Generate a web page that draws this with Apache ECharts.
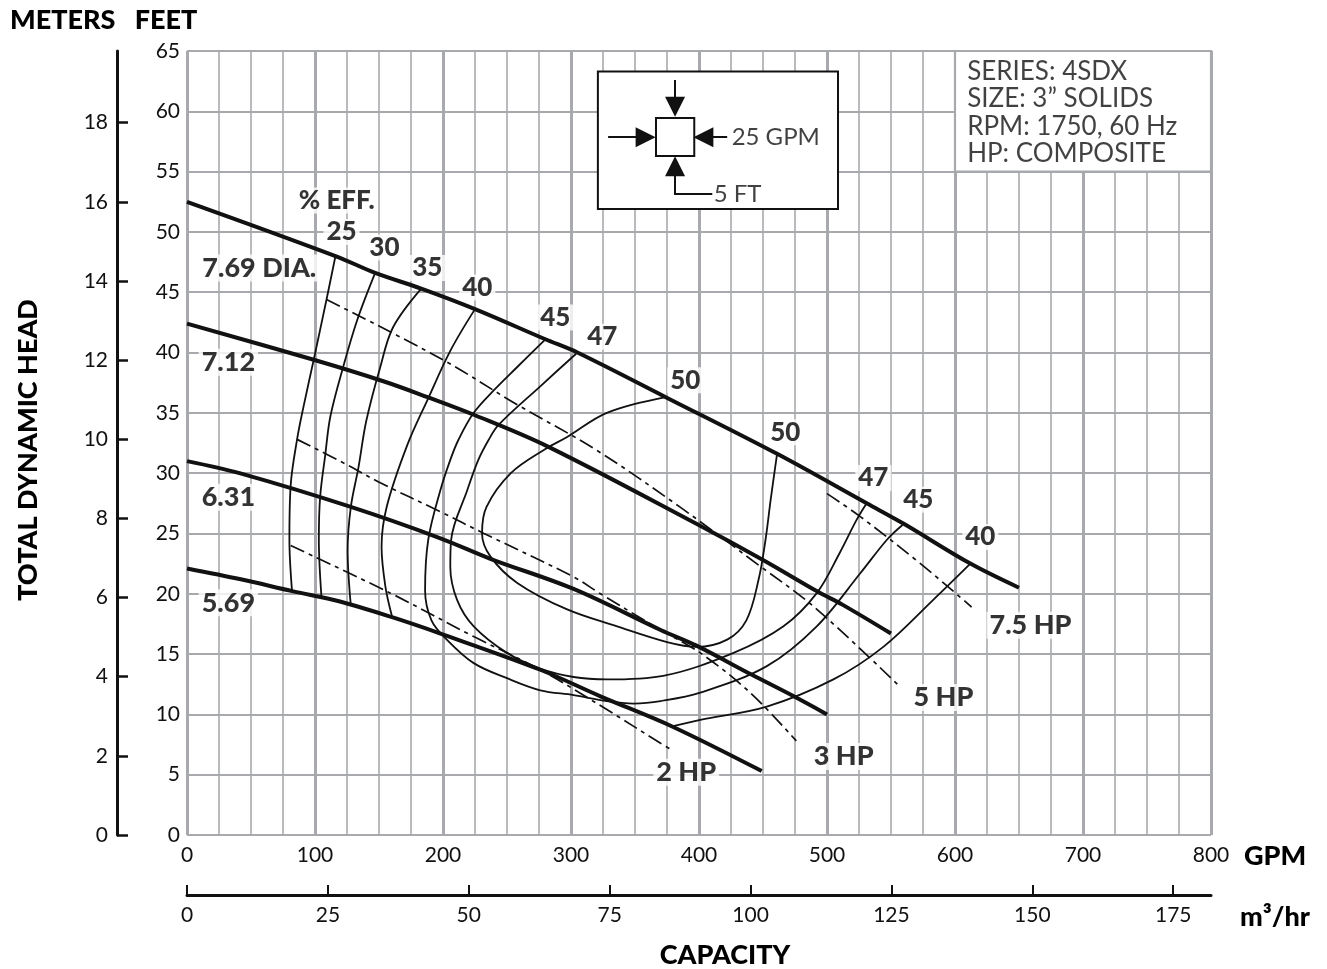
<!DOCTYPE html>
<html>
<head>
<meta charset="utf-8">
<script src="https://cdn.jsdelivr.net/npm/echarts@6/dist/echarts.min.js"></script>
<style>html,body{margin:0;padding:0;background:#fff}#c{width:1327px;height:969px}</style>
</head>
<body>
<div id="c"></div>
<script>
// ---- impeller diameter head curves: [GPM, feet] ----
const dia769 = [[0,52.5],[116,48.0],[147,46.6],[183,45.3],[225,43.6],[280,41.1],[305,40.0],[374,36.3],[461,31.6],[531,27.5],[560,25.8],[612,22.5],[650,20.5]];
const dia712 = [[0,42.4],[99,39.4],[154,37.6],[188,36.3],[225,34.8],[282,32.2],[398,25.8],[450,22.8],[494,20.1],[512,19.1],[550,16.7]];
const dia631 = [[0,31.0],[41,30.0],[128,27.2],[198,24.6],[237,22.9],[302,20.4],[370,17.0],[398,15.7],[441,13.3],[474,11.5],[500,10.0]];
const dia569 = [[0,22.1],[42,21.2],[83,20.2],[118,19.4],[159,18.1],[198,16.7],[276,13.7],[323,11.5],[379,9.0],[449,5.3]];

// ---- efficiency contours (%) ----
const eff25 = [[116,48.0],[109,44.4],[99,39.4],[91,35.5],[86,32.8],[81,29.0],[80,24.5],[82,20.3]];
const eff30 = [[147,46.6],[133,42.7],[122,38.8],[112,34.7],[108,31.5],[104,28.0],[103,24.5],[105,19.8]];
const eff35 = [[183,45.3],[161,42.1],[151,38.8],[140,34.3],[134,30.5],[128,27.2],[125.5,23.6],[128,19.0]];
const eff40a = [[225,43.6],[206,40.2],[188,36.1],[172,32.3],[156,27.2],[152,23.9],[155,20.6],[160,18.2]];
const eff40b = [[612,22.5],[583,19.5],[544,15.6],[505,12.9],[453,10.65],[401,9.55],[379,9.0]];
const eff45 = [[280,41.1],[258,38.8],[240,36.9],[224,35.0],[212,32.75],[205.7,31.1],[198,28.6],[188.5,24.5],[186,20.3],[191,17.8],[203,16.2],[224,14.25],[250,13.0],[276,12.0],[302,11.6],[328,11.1],[349,10.9],[370,11.1],[401,11.8],[453,14.0],[492,17.3],[526,21.7],[547,24.5],[559,25.7]];
const eff47 = [[304,39.9],[276,37.2],[243.4,34.0],[235.6,32.75],[227.6,31.1],[219,28.6],[206.4,24.5],[205.7,22.25],[211,19.5],[224,17.3],[250,15.1],[276,13.8],[302,13.1],[328,12.9],[372,13.2],[427,15.1],[466,17.3],[492,20.05],[510,23.4],[523,26.1],[531,27.5]];
const eff50 = [[374,36.3],[328,35.0],[297,33.0],[280,32.0],[253,30.0],[234,27.2],[230.5,25.0],[237,23.1],[258,20.9],[297,18.7],[336,17.3],[375,16.0],[398,15.6],[422,16.2],[437,17.8],[446.6,21.2],[452,24.5],[456,27.8],[461,31.6]];

// ---- horsepower lines ----
const hp2 = [[81,24.0],[159,20.05],[224,16.45],[276,13.7],[328,10.4],[370,7.6],[378,7.1]];
const hp3 = [[86,32.8],[125,30.7],[151,29.2],[198,26.8],[232,25.0],[302,21.4],[323,20.0],[370,17.0],[401,15.1],[440,11.8],[476,7.8]];
const hp5 = [[109,44.4],[200,39.4],[256,35.8],[320,31.9],[385,27.2],[445,22.5],[490,18.9],[557,12.3]];
const hp75 = [[500,28.3],[526,26.4],[573,22.5],[613,18.9]];

// ---- axis ticks ----
const gpmTicks = [0,100,200,300,400,500,600,700,800];
const feetTicks = [0,5,10,15,20,25,30,35,40,45,50,55,60,65];
const meterTicks = [0,2,4,6,8,10,12,14,16,18];
const m3hrTicks = [0,25,50,75,100,125,150,175];

// ---- annotations (text, anchor in GPM/feet) ----
const effLabels = [['% EFF.',117,52.6],['25',120.7,50.0],['30',154.2,48.7],['35',187.7,47.0],['40',226.8,45.4],['45',287.7,42.9],['47',324.5,41.3],['50',389.3,37.7],['50',467.4,33.4],['47',536.2,29.6],['45',571.3,27.8],['40',619.8,24.7]];
const diaLabels = [['7.69 DIA.',56.5,47.0],['7.12',32.3,39.2],['6.31',32.3,28.0],['5.69',32.3,19.25]];
const hpLabels = [['7.5 HP',659,17.4],['5 HP',591,11.4],['3 HP',513,6.5],['2 HP',390,5.2]];
const infoText = ['SERIES: 4SDX','SIZE: 3\u201D SOLIDS','RPM: 1750, 60 Hz','HP: COMPOSITE'];

const INK = '#111';
const GRID = '#a7a9ac';
const FONT = 'Lato, "Open Sans", sans-serif';
const GPM_PER_M3HR = 4.40287;
const FT_PER_M = 3.28084;

const chart = echarts.init(document.getElementById('c'), null, {renderer: 'canvas'});

function curve(data, width, dash, z) {
  return {
    type: 'line', data: data, xAxisIndex: 0, yAxisIndex: 0,
    symbol: 'none', showSymbol: false, smooth: 0.35, silent: true,
    lineStyle: {color: INK, width: width, type: dash || 'solid', cap: 'butt'},
    z: z || 3, animation: false
  };
}
const HPDASH = [15, 5, 4, 5];

function labelSeries(list, fontSize, z) {
  return {
    type: 'scatter', xAxisIndex: 0, yAxisIndex: 0, symbolSize: 0, silent: true, z: z || 6,
    data: list.map(d => ({name: d[0], value: [d[1], d[2]]})),
    label: {show: true, position: 'inside', formatter: '{b}', color: '#000',
      fontFamily: FONT, fontSize: fontSize, fontWeight: 900,
      backgroundColor: '#fff', padding: [0, 3, 0, 3]},
    animation: false
  };
}

const option = {
  backgroundColor: '#fff',
  animation: false,
  grid: {left: 187, top: 51, right: 116, bottom: 134, containLabel: false},
  xAxis: [
    {type: 'value', min: 0, max: 800, interval: 100, position: 'bottom',
     axisLine: {show: false}, axisTick: {show: false},
     axisLabel: {color: INK, fontSize: 21, fontFamily: FONT, margin: 10, customValues: gpmTicks},
     splitLine: {show: true, lineStyle: {color: GRID, width: 3}},
     minorTick: {show: false, splitNumber: 4},
     minorSplitLine: {show: true, lineStyle: {color: GRID, width: 1.6}}},
    {type: 'value', min: 0, max: 800 / GPM_PER_M3HR, position: 'bottom', offset: 60,
     axisLine: {show: true, onZero: false, lineStyle: {color: INK, width: 3}},
     axisTick: {show: true, inside: true, length: 10, lineStyle: {color: INK, width: 2}, customValues: m3hrTicks},
     axisLabel: {color: INK, fontSize: 21, fontFamily: FONT, margin: 10, customValues: m3hrTicks},
     splitLine: {show: false}}
  ],
  yAxis: [
    {type: 'value', min: 0, max: 65, interval: 5, position: 'left',
     axisLine: {show: false}, axisTick: {show: false},
     axisLabel: {color: INK, fontSize: 21, fontFamily: FONT, margin: 7, customValues: feetTicks},
     splitLine: {show: true, lineStyle: {color: GRID, width: 2.2}}},
    {type: 'value', min: 0, max: 65 / FT_PER_M, position: 'left', offset: 70,
     axisLine: {show: true, onZero: false, lineStyle: {color: INK, width: 3}},
     axisTick: {show: true, inside: true, length: 11, lineStyle: {color: INK, width: 2.5}, customValues: meterTicks},
     axisLabel: {color: INK, fontSize: 21, fontFamily: FONT, margin: 9, customValues: meterTicks},
     splitLine: {show: false}}
  ],
  series: [
    // boxes (info + scale legend)
    {type: 'line', data: [], xAxisIndex: 0, yAxisIndex: 0, silent: true, z: 2,
     markArea: {silent: true, data: [
       [{xAxis: 600, yAxis: 65, itemStyle: {color: '#fff', borderColor: GRID, borderWidth: 2.2}}, {xAxis: 800, yAxis: 55}],
       [{xAxis: 321, yAxis: 63.3, itemStyle: {color: '#fff', borderColor: INK, borderWidth: 2}}, {xAxis: 508.6, yAxis: 51.9}],
       [{xAxis: 366.4, yAxis: 59.45, itemStyle: {color: '#fff', borderColor: INK, borderWidth: 2}}, {xAxis: 396.3, yAxis: 56.3}]
     ]}},
    {type: 'lines', coordinateSystem: 'cartesian2d', xAxisIndex: 0, yAxisIndex: 0, silent: true, z: 4,
     symbol: ['none', 'triangle'], symbolSize: 20,
     lineStyle: {color: INK, width: 2, opacity: 1},
     itemStyle: {color: INK},
     data: [
       {coords: [[329, 57.85], [358.3, 57.85]]},
       {coords: [[422, 57.85], [403.4, 57.85]]},
       {coords: [[381.3, 62.6], [381.3, 60.37]]},
       {coords: [[381.3, 53.13], [381.3, 55.45]]}
     ]},
    {type: 'lines', coordinateSystem: 'cartesian2d', xAxisIndex: 0, yAxisIndex: 0, silent: true, z: 4,
     symbol: 'none', lineStyle: {color: INK, width: 2, opacity: 1},
     data: [{coords: [[380.5, 53.13], [410.4, 53.13]]}]},
    {type: 'scatter', xAxisIndex: 0, yAxisIndex: 0, symbolSize: 0, silent: true, z: 6,
     data: [{name: '25 GPM', value: [425.5, 57.85]}, {name: '5 FT', value: [411.5, 53.13]}],
     label: {show: true, position: 'inside', align: 'left', formatter: '{b}', color: INK, fontFamily: FONT, fontSize: 24}},
    {type: 'scatter', xAxisIndex: 0, yAxisIndex: 0, symbolSize: 0, silent: true, z: 6,
     data: [{name: infoText.join('\n'), value: [609.5, 64.45]}],
     label: {show: true, position: 'inside', align: 'left', verticalAlign: 'top', formatter: '{b}', color: INK,
       fontFamily: FONT, fontSize: 26, lineHeight: 27.5}},
    // curves
    curve(eff25, 1.8), curve(eff30, 1.8), curve(eff35, 1.8), curve(eff40a, 1.8), curve(eff40b, 1.8),
    curve(eff45, 1.8), curve(eff47, 1.8), curve(eff50, 1.8),
    curve(hp2, 1.7, HPDASH), curve(hp3, 1.7, HPDASH), curve(hp5, 1.7, HPDASH), curve(hp75, 1.7, HPDASH),
    curve(dia769, 4, null, 5), curve(dia712, 4, null, 5), curve(dia631, 4, null, 5), curve(dia569, 4, null, 5),
    labelSeries(effLabels, 26, 7),
    labelSeries(diaLabels, 27, 7),
    labelSeries(hpLabels, 27, 7)
  ],
  graphic: [
    {type: 'text', left: 10, top: 7, style: {text: 'METERS   FEET', fill: '#000', font: '900 27px ' + FONT}},
    {type: 'text', x: 28, y: 450, rotation: Math.PI / 2, originX: 0, originY: 0,
     style: {text: 'TOTAL DYNAMIC HEAD', fill: '#000', font: '900 27px ' + FONT, align: 'center', verticalAlign: 'middle'}},
    {type: 'text', x: 725, y: 955, style: {text: 'CAPACITY', fill: '#000', font: '900 27px ' + FONT, align: 'center', verticalAlign: 'middle'}},
    {type: 'text', x: 1244, y: 856, style: {text: 'GPM', fill: '#000', font: '900 27px ' + FONT, align: 'left', verticalAlign: 'middle'}},
    {type: 'text', x: 1240, y: 917, style: {text: 'm\u00B3/hr', fill: '#000', font: '900 27px ' + FONT, align: 'left', verticalAlign: 'middle'}}
  ]
};
chart.setOption(option);
</script>
</body>
</html>
